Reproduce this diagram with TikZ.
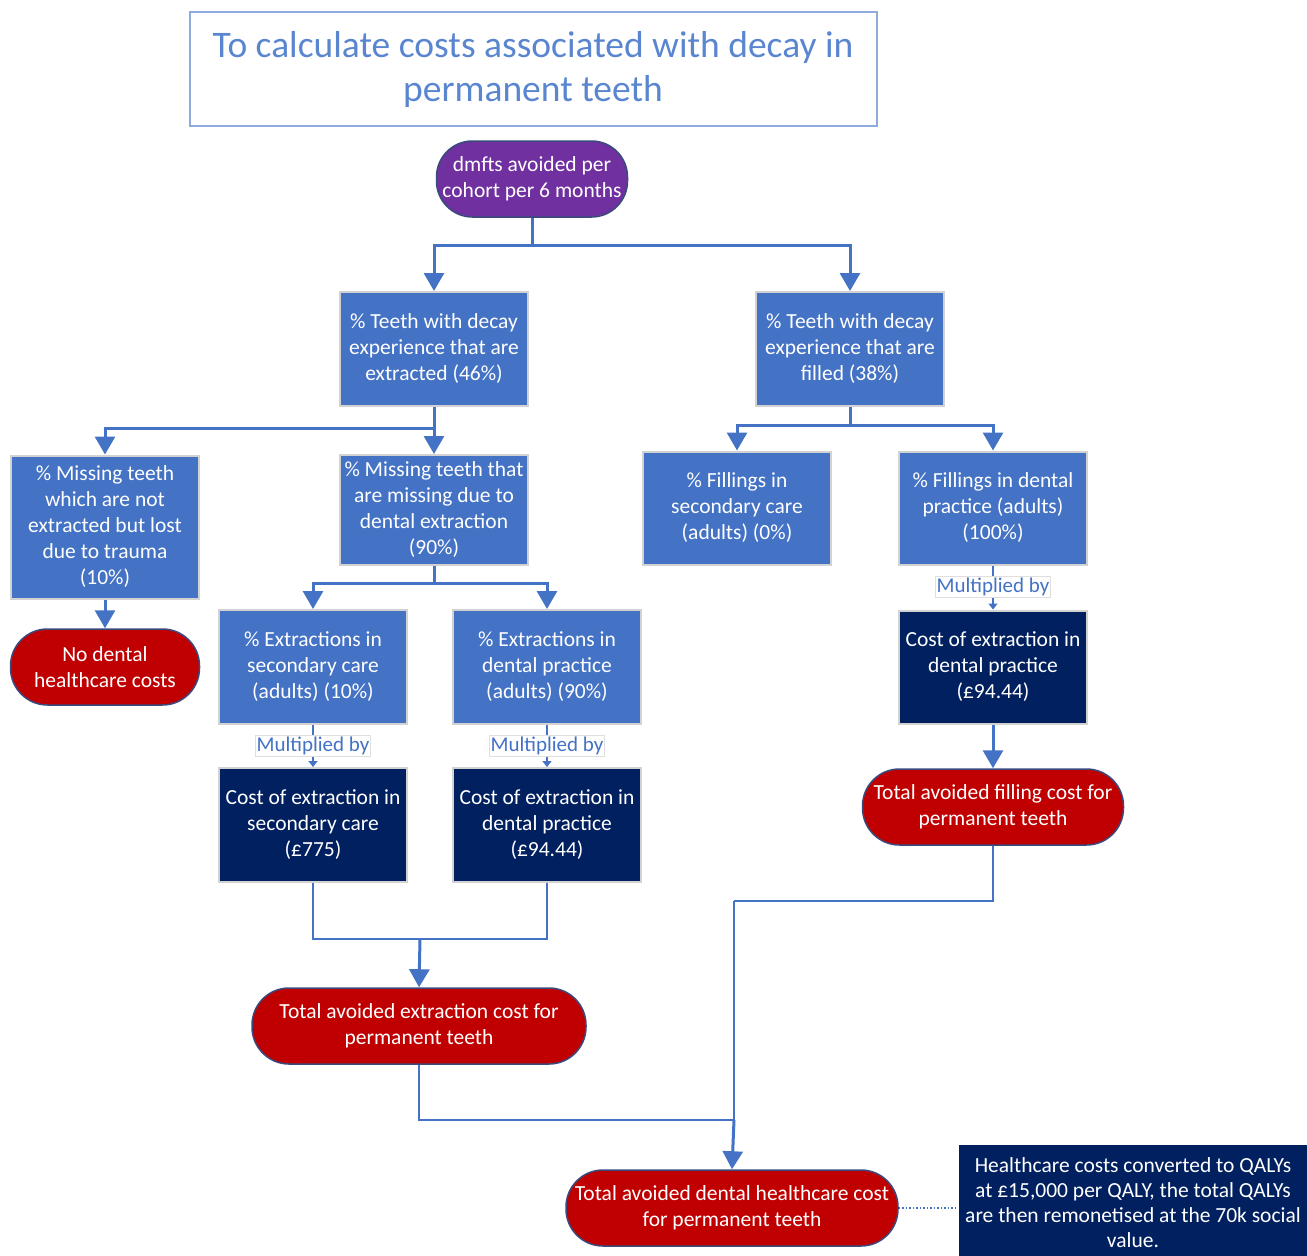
\documentclass[tikz,border=0pt]{standalone}
\usepackage{fontspec}
\setmainfont{Carlito}
\usetikzlibrary{arrows.meta}
\definecolor{boxblue}{HTML}{4472C4}
\definecolor{navy}{HTML}{002060}
\definecolor{darkred}{HTML}{C00000}
\definecolor{purp}{HTML}{7030A0}
\definecolor{titleblue}{HTML}{5A86D0}
\definecolor{titleedge}{HTML}{8FAADC}
\definecolor{pilledge}{HTML}{3A4A7C}
\begin{document}
\begin{tikzpicture}[x=1pt,y=-1pt,
  txt/.style={text=white, align=center, inner sep=0pt, font=\fontsize{21.5}{26}\selectfont},
  box/.style={txt, draw=gray!35, line width=2pt, fill=boxblue, minimum width=188pt, minimum height=114pt},
  costbox/.style={box, fill=navy},
  pill/.style={txt, draw=pilledge, line width=1.5pt, fill=darkred, rounded corners=37pt, minimum height=76pt},
  mult/.style={draw=gray!25, fill=white, line width=1pt, text=boxblue, inner sep=1.5pt, font=\fontsize{21}{22}\selectfont},
  conn/.style={draw=boxblue, line width=3pt},
  arr/.style={conn, -{Triangle[width=20pt,length=18pt]}},
  thin/.style={draw=boxblue, line width=1.5pt},
  tiny/.style={thin, -{Triangle[width=9pt,length=6pt]}}]
\useasboundingbox (0,0) rectangle (1307,1256);
\node[draw=titleedge, line width=2pt, text=titleblue, align=center, minimum width=687pt, minimum height=114pt, font=\fontsize{37.5}{44}\selectfont] (title) at (533,69) {To calculate costs associated with decay in\\permanent teeth};
\node[pill, fill=purp, rounded corners=36pt, minimum width=191pt] (dmfts) at (532,179) {dmfts avoided per\\cohort per 6 months};
\node[box] (extr) at (434,349) {\% Teeth with decay\\experience that are\\extracted (46\%)};
\node[box] (fill) at (850,349) {\% Teeth with decay\\experience that are\\filled (38\%)};
\node[box, minimum height=143pt] (trauma) at (105,527) {\% Missing teeth\\which are not\\extracted but lost\\due to trauma\\(10\%)};
\node[box, minimum height=110pt] (misdue) at (434,510) {\% Missing teeth that\\are missing due to\\dental extraction\\(90\%)};
\node[pill, minimum width=189pt] (nocost) at (105,667) {No dental\\healthcare costs};
\node[box] (secx) at (313,667) {\% Extractions in\\secondary care\\(adults) (10\%)};
\node[box] (dpx) at (547,667) {\% Extractions in\\dental practice\\(adults) (90\%)};
\node[mult] (m1) at (313,746) {Multiplied by};
\node[mult] (m2) at (547,746) {Multiplied by};
\node[costbox] (secc) at (313,825) {Cost of extraction in\\secondary care\\(£775)};
\node[costbox] (dpc) at (547,825) {Cost of extraction in\\dental practice\\(£94.44)};
\node[pill, minimum width=334pt] (extot) at (419,1026) {Total avoided extraction cost for\\permanent teeth};
\node[box, minimum height=113pt] (fsec) at (737,508) {\% Fillings in\\secondary care\\(adults) (0\%)};
\node[box, minimum height=113pt] (fdp) at (993,508) {\% Fillings in dental\\practice (adults)\\(100\%)};
\node[mult] (m3) at (993,587) {Multiplied by};
\node[costbox, minimum height=113pt] (fcost) at (993,667) {Cost of extraction in\\dental practice\\(£94.44)};
\node[pill, minimum width=261pt] (filltot) at (993,807) {Total avoided filling cost for\\permanent teeth};
\node[pill, minimum width=332pt] (total) at (732,1208) {Total avoided dental healthcare cost\\for permanent teeth};
\node[costbox, minimum width=349pt, minimum height=116pt, draw=none, font=\fontsize{21.5}{25}\selectfont] (qaly) at (1133,1203) {Healthcare costs converted to QALYs\\at £15,000 per QALY, the total QALYs\\are then remonetised at the 70k social\\value.};
\coordinate (joinx) at (420,939);
\coordinate (bend) at (734,901);
\coordinate (meet) at (734,1120);
\draw[arr] (dmfts.south) -- ++(0,28) -| (extr.north);
\draw[arr] (dmfts.south) -- ++(0,28) -| (fill.north);
\draw[arr] (extr.south) -- ++(0,21) -| (trauma.north);
\draw[arr] (extr.south) -- ++(0,21) -| (misdue.north);
\draw[arr] (trauma.south) -- (nocost.north);
\draw[arr] (misdue.south) -- ++(0,17) -| (secx.north);
\draw[arr] (misdue.south) -- ++(0,17) -| (dpx.north);
\draw[thin] (secx.south) -- (m1.north);
\draw[tiny] (m1.south) -- (secc.north);
\draw[thin] (dpx.south) -- (m2.north);
\draw[tiny] (m2.south) -- (dpc.north);
\draw[thin] (secc.south) |- (joinx) -| (dpc.south);
\draw[arr] (joinx) -- (extot.north);
\draw[arr] (fill.south) -- ++(0,18) -| (fsec.north);
\draw[arr] (fill.south) -- ++(0,18) -| (fdp.north);
\draw[thin] (fdp.south) -- (m3.north);
\draw[tiny] (m3.south) -- (fcost.north);
\draw[arr] (fcost.south) -- (filltot.north);
\draw[thin] (extot.south) |- (meet);
\draw[thin] (filltot.south) |- (bend);
\draw[thin] (bend) -- (meet);
\draw[arr] (meet) -- (total.north);
\draw[thin, dotted, line width=1.5pt] (total.east) -- (total.east -| qaly.west);
\end{tikzpicture}
\end{document}
